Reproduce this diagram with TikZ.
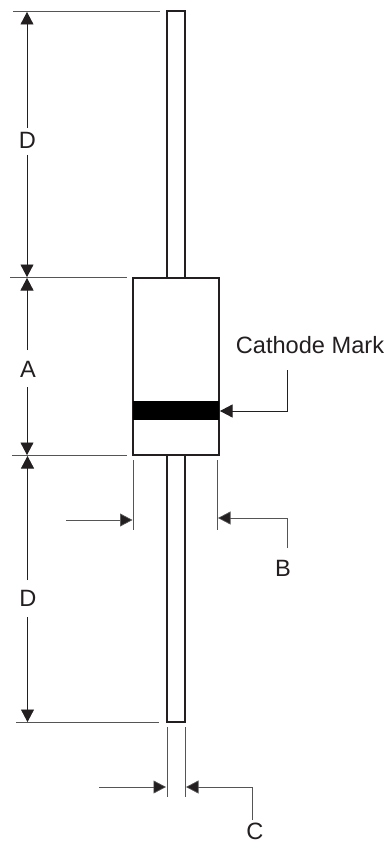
\documentclass[tikz,border=0pt]{standalone}
\usepackage{fontspec}
\setmainfont{Liberation Sans}
\usetikzlibrary{arrows.meta}
\definecolor{ink}{HTML}{231F20}
\definecolor{dimgrey}{HTML}{555555}
\tikzset{
  part/.style={draw=ink,line width=1.5pt,fill=white,inner sep=0pt},
  ext/.style={draw=dimgrey,line width=0.7pt},
  dimarrow/.style={draw=ink,line width=0.7pt,-{Triangle[length=12.5pt,width=13pt,fill=ink]}},
  lbl/.style={font=\fontsize{23.6}{24}\selectfont,text=ink,inner sep=0pt}
}
\begin{document}
\begin{tikzpicture}[x=1pt,y=-1pt]
\useasboundingbox (0,0) rectangle (387,845);
% leads and body
\draw[part] (167,11) rectangle (185,278);
\draw[part] (167,455) rectangle (185,722);
\draw[part] (133,278) rectangle (219,455);
\fill[black] (133,401) rectangle (219,420);
% extension lines
\draw[ext] (13,11) -- (160,11);
\draw[ext] (10,277.5) -- (127,277.5);
\draw[ext] (12,455.5) -- (127,455.5);
\draw[ext] (16,722) -- (159,722);
\draw[ext] (133,460) -- (133,530);
\draw[ext] (217,460) -- (217,530);
\draw[ext] (167,727) -- (167,797);
\draw[ext] (185,727) -- (185,797);
% labels
\node[lbl] (d1) at (27.5,140) {D};
\node[lbl] (a) at (28,369) {A};
\node[lbl] (d2) at (28,598) {D};
\node[lbl] (b) at (283,568) {B};
\node[lbl] (c) at (255,831.5) {C};
\node[lbl] (cm) at (310,345) {Cathode Mark};
% named ends
\coordinate (t0) at (27,12);
\coordinate (t1) at (27,277);
\coordinate (t2) at (27,278);
\coordinate (t3) at (27,455);
\coordinate (t4) at (27.5,456);
\coordinate (t5) at (27.5,722);
% vertical dimensions
\draw[dimarrow] (27,128) -- (t0);
\draw[dimarrow] (27,155) -- (t1);
\draw[dimarrow] (27,350) -- (t2);
\draw[dimarrow] (27,387) -- (t3);
\draw[dimarrow] (27.5,580) -- (t4);
\draw[dimarrow] (27.5,617) -- (t5);
% width dimensions
\coordinate (bl) at (132.5,520);
\coordinate (br) at (218,518);
\coordinate (cl) at (166,787);
\coordinate (cr) at (186,787);
\coordinate (cath) at (220,411);
\draw[dimarrow,draw=dimgrey] (66,520) -- (bl);
\draw[dimarrow,draw=dimgrey] (287,548) -- (287,518) -- (br);
\draw[dimarrow,draw=dimgrey] (99,787) -- (cl);
\draw[dimarrow,draw=dimgrey] (252,820) -- (252,787) -- (cr);
\draw[dimarrow] (287,370) -- (287,411) -- (cath);
\end{tikzpicture}
\end{document}
